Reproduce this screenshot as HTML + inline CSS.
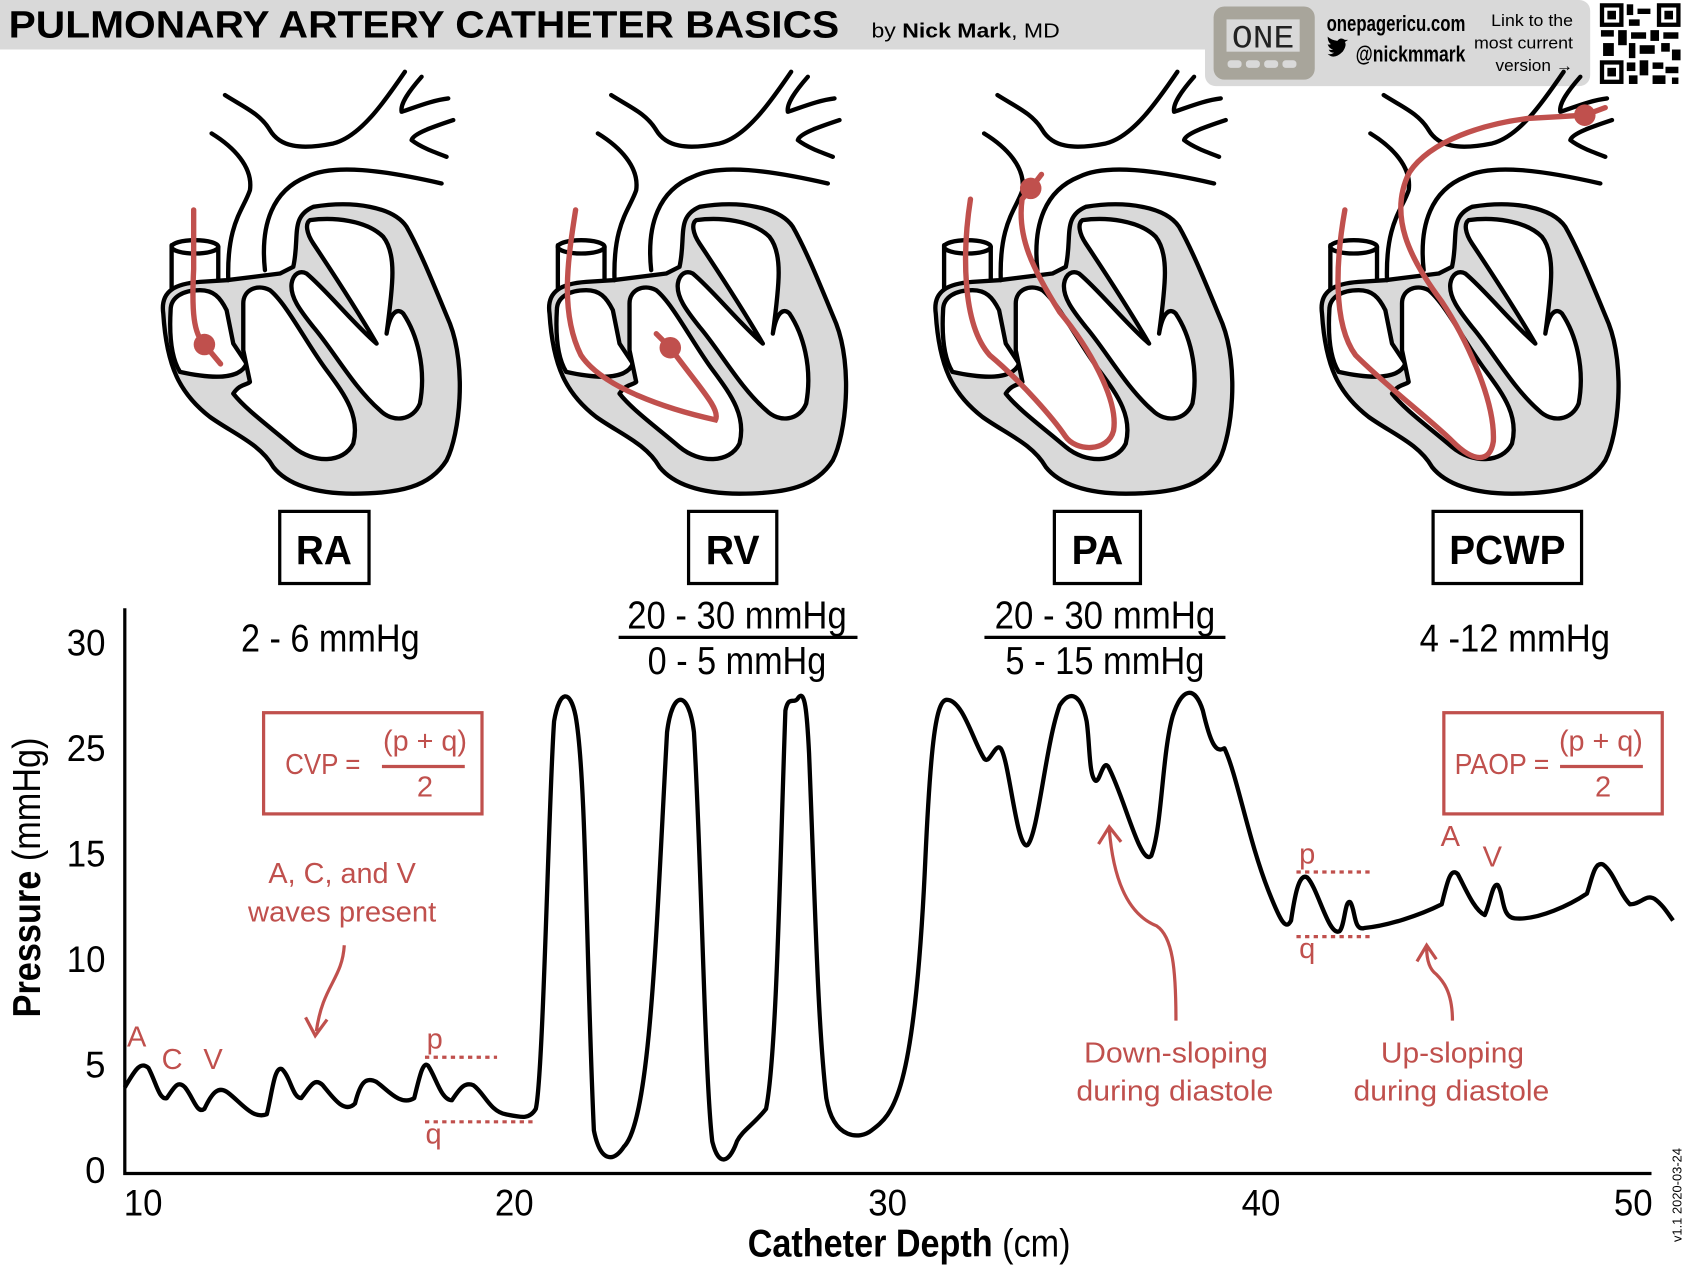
<!DOCTYPE html>
<html><head><meta charset="utf-8">
<style>
html,body{margin:0;padding:0;background:#fff;}
svg{display:block;}
.n{font-family:"Liberation Sans Narrow","Liberation Sans",sans-serif;}
.s{font-family:"Liberation Sans",sans-serif;}
.r{fill:#c0504d;}
</style></head><body>
<svg width="1687" height="1265" viewBox="0 0 1568 1175" preserveAspectRatio="none" xmlns="http://www.w3.org/2000/svg">
<defs>
<g id="heart" stroke="#000" stroke-width="13" stroke-linecap="round" stroke-linejoin="round">
  <path fill="#d9d9d9" d="M190,790 C180,720 230,700 300,695 L380,690 L540,670 L580,650 C600,560 570,500 640,470 C760,450 880,470 920,530 C960,600 1000,700 1050,820 C1100,950 1080,1150 1040,1230 C990,1310 900,1330 760,1330 C640,1330 560,1300 520,1250 C480,1180 400,1150 330,1100 C240,1030 200,950 190,790 Z"/>
  <path fill="#fff" d="M212,780 C212,740 250,720 300,720 C340,720 360,740 380,780 L400,880 L440,940 C420,990 330,985 240,965 C212,920 208,850 212,780 Z"/>
  <path fill="#fff" d="M400,1030 C420,1000 440,1005 450,995 L430,900 L430,760 C430,720 470,700 510,720 C560,760 620,880 680,960 C740,1040 780,1100 760,1180 C730,1240 640,1240 580,1190 C510,1130 440,1080 400,1030 Z"/>
  <path fill="#fff" d="M630,510 C700,500 800,510 850,560 C890,610 880,700 860,850 C870,790 890,770 910,790 C950,850 980,950 960,1060 C940,1110 880,1120 840,1080 C760,1010 700,900 640,830 C600,780 570,740 575,700 C580,670 600,660 620,670 C680,720 760,820 830,880 C760,760 680,640 640,580 C620,550 615,520 630,510 Z"/>
  <g fill="none">
    <path d="M215,715 L215,585 M355,690 L355,590"/>
    <ellipse cx="285" cy="590" rx="70" ry="20" fill="#fff"/>
    <path d="M335,250 C400,290 460,350 450,420 C430,480 380,520 385,690"/>
    <path d="M375,135 C430,170 480,190 510,240 C540,290 600,300 700,280 C780,260 850,160 915,65"/>
    <path d="M965,80 C930,120 900,160 905,185 C950,170 1000,150 1045,145"/>
    <path d="M1060,210 C1000,230 940,250 935,270 C960,290 1000,305 1040,320"/>
    <path d="M495,660 C480,520 520,420 620,380 C700,340 850,360 1025,400"/>
  </g>
</g>
</defs>
<rect width="1568" height="1175" fill="#fff"/>
<!-- header -->
<path d="M0,0 H1130 V40 Q1130,46 1124,46 H0 Z" fill="#d9d9d9"/>
<rect x="1120" y="0" width="358" height="80" rx="10" fill="#d9d9d9"/>
<text x="8" y="35" class="s" font-weight="bold" font-size="35" textLength="772" lengthAdjust="spacingAndGlyphs">PULMONARY ARTERY CATHETER BASICS</text>
<text x="810" y="35" class="s" font-size="19" textLength="175" lengthAdjust="spacingAndGlyphs">by <tspan font-weight="bold">Nick Mark</tspan>, MD</text>
<rect x="1128" y="6" width="94" height="68" rx="10" fill="#a8a59b"/>
<rect x="1140" y="18" width="68" height="30" fill="#d9d9d9"/>
<text x="1174" y="44" text-anchor="middle" font-family="Liberation Mono,monospace" font-size="30" fill="#222" textLength="58" lengthAdjust="spacingAndGlyphs">ONE</text>
<g fill="#d9d9d9"><rect x="1141" y="56" width="13" height="7" rx="3"/><rect x="1158" y="56" width="13" height="7" rx="3"/><rect x="1175" y="56" width="13" height="7" rx="3"/><rect x="1192" y="56" width="13" height="7" rx="3"/></g>
<text x="1233" y="29" class="s" font-weight="bold" font-size="21" textLength="129" lengthAdjust="spacingAndGlyphs">onepagericu.com</text>
<path d="M1234,50 q6,6 14,-2 q4,-6 2,-9 l3,-2 -3,0 q-4,-3 -7,1 q-6,-1 -9,-4 q0,5 3,7 q-2,1 -3,0 q1,4 5,5 q-2,1 -4,0 q1,3 5,3 q-3,2 -6,1z" fill="#000"/>
<text x="1260" y="57" class="s" font-weight="bold" font-size="21" textLength="102" lengthAdjust="spacingAndGlyphs">@nickmmark</text>
<g class="s" font-size="15" text-anchor="end"><text x="1462" y="24" textLength="76" lengthAdjust="spacingAndGlyphs">Link to the</text><text x="1462" y="45" textLength="92" lengthAdjust="spacingAndGlyphs">most current</text><text x="1462" y="66" textLength="72" lengthAdjust="spacingAndGlyphs">version →</text></g>
<g>
<rect x="1487" y="3" width="75" height="75" fill="#fff"/>
<g fill="none" stroke="#000" stroke-width="4"><rect x="1489" y="5" width="18" height="18"/><rect x="1542" y="5" width="18" height="18"/><rect x="1489" y="58" width="18" height="18"/></g>
<g fill="#000"><rect x="1494" y="10" width="8" height="8"/><rect x="1547" y="10" width="8" height="8"/><rect x="1494" y="63" width="8" height="8"/>
<rect x="1512" y="4" width="6" height="10"/><rect x="1522" y="8" width="12" height="5"/><rect x="1514" y="18" width="10" height="6"/><rect x="1488" y="28" width="12" height="6"/><rect x="1504" y="28" width="8" height="14"/><rect x="1516" y="30" width="14" height="6"/><rect x="1534" y="28" width="8" height="10"/><rect x="1546" y="30" width="14" height="6"/><rect x="1490" y="40" width="10" height="12"/><rect x="1514" y="40" width="6" height="14"/><rect x="1524" y="42" width="14" height="8"/><rect x="1544" y="40" width="8" height="8"/><rect x="1554" y="46" width="8" height="10"/><rect x="1512" y="58" width="8" height="8"/><rect x="1524" y="56" width="8" height="14"/><rect x="1536" y="58" width="10" height="6"/><rect x="1548" y="62" width="12" height="6"/><rect x="1514" y="70" width="8" height="8"/><rect x="1536" y="70" width="12" height="8"/><rect x="1554" y="72" width="6" height="6"/></g>
</g>
<!-- hearts -->
<use href="#heart" transform="translate(92.9,46.5) scale(0.3098)"/>
<use href="#heart" transform="translate(451.9,46.5) scale(0.3098)"/>
<use href="#heart" transform="translate(810.9,46.5) scale(0.3098)"/>
<use href="#heart" transform="translate(1169.9,46.5) scale(0.3098)"/>
<!-- catheters -->
<g fill="none" stroke="#c0504d" stroke-width="5" stroke-linecap="round">
<path d="M180,195 L180,250 C178,290 180,310 190,320 L205,338"/>
<path d="M535,195 C528,240 520,290 540,330 C560,360 620,380 665,390 C670,380 650,360 623,323 L610,310"/>
<path d="M902,185 C895,230 893,300 920,330 C950,355 980,390 990,405 C1000,420 1030,420 1035,400 C1040,370 1010,320 985,290 C960,250 945,220 950,185 L958,175 L968,162"/>
<path d="M1250,195 C1242,240 1238,300 1260,330 C1290,360 1330,390 1350,410 C1370,430 1385,430 1388,410 C1390,370 1360,310 1340,280 C1310,240 1290,200 1310,160 C1330,130 1380,115 1420,110 L1473,107 L1492,100"/>
</g>
<g fill="#c0504d"><circle cx="190" cy="320" r="10"/><circle cx="623" cy="323" r="10"/><circle cx="958" cy="175" r="10"/><circle cx="1473" cy="107" r="10"/></g>
<!-- label boxes -->
<g fill="#fff" stroke="#000" stroke-width="3">
<rect x="260" y="475" width="83" height="67"/><rect x="640" y="475" width="82" height="67"/><rect x="980" y="475" width="80" height="67"/><rect x="1332" y="475" width="138" height="67"/></g>
<g class="s" font-weight="bold" font-size="38" text-anchor="middle">
<text x="301" y="524" textLength="52" lengthAdjust="spacingAndGlyphs">RA</text><text x="681" y="524" textLength="50" lengthAdjust="spacingAndGlyphs">RV</text><text x="1020" y="524" textLength="48" lengthAdjust="spacingAndGlyphs">PA</text><text x="1401" y="524" textLength="108" lengthAdjust="spacingAndGlyphs">PCWP</text></g>
<g class="s" font-size="36" text-anchor="middle">
<text x="307" y="605" textLength="166" lengthAdjust="spacingAndGlyphs">2 - 6 mmHg</text>
<text x="685" y="584" textLength="204" lengthAdjust="spacingAndGlyphs">20 - 30 mmHg</text><text x="685" y="626" textLength="166" lengthAdjust="spacingAndGlyphs">0 - 5 mmHg</text>
<text x="1027" y="584" textLength="205" lengthAdjust="spacingAndGlyphs">20 - 30 mmHg</text><text x="1027" y="626" textLength="185" lengthAdjust="spacingAndGlyphs">5 - 15 mmHg</text>
<text x="1408" y="605" textLength="177" lengthAdjust="spacingAndGlyphs">4 -12 mmHg</text></g>
<path d="M575,592 H797 M915,592 H1139" stroke="#000" stroke-width="3"/>
<!-- axes -->
<path d="M116,565 V1090 H1535" fill="none" stroke="#000" stroke-width="3"/>
<g class="s" font-size="34" text-anchor="end">
<text x="98" y="609" textLength="36" lengthAdjust="spacingAndGlyphs">30</text><text x="98" y="707" textLength="36" lengthAdjust="spacingAndGlyphs">25</text><text x="98" y="805" textLength="36" lengthAdjust="spacingAndGlyphs">15</text><text x="98" y="903" textLength="36" lengthAdjust="spacingAndGlyphs">10</text><text x="98" y="1001">5</text><text x="98" y="1099">0</text></g>
<g class="s" font-size="34" text-anchor="middle">
<text x="133" y="1129" textLength="36" lengthAdjust="spacingAndGlyphs">10</text><text x="478" y="1129" textLength="36" lengthAdjust="spacingAndGlyphs">20</text><text x="825" y="1129" textLength="36" lengthAdjust="spacingAndGlyphs">30</text><text x="1172" y="1129" textLength="36" lengthAdjust="spacingAndGlyphs">40</text><text x="1518" y="1129" textLength="36" lengthAdjust="spacingAndGlyphs">50</text></g>
<text x="845" y="1167" class="s" font-size="36" text-anchor="middle" textLength="300" lengthAdjust="spacingAndGlyphs"><tspan font-weight="bold">Catheter Depth</tspan> (cm)</text>
<text transform="translate(37,815) rotate(-90)" class="s" font-size="36" text-anchor="middle" textLength="260" lengthAdjust="spacingAndGlyphs"><tspan font-weight="bold">Pressure</tspan> (mmHg)</text>
<text transform="translate(1563,1110) rotate(-90)" class="s" font-size="12" text-anchor="middle">v1.1 2020-03-24</text>
<!-- waveform -->
<path fill="none" stroke="#000" stroke-width="4" stroke-linejoin="round" d="M116,1010 C125,995 130,985 138,992 C145,1005 148,1022 155,1020 C162,1010 165,1003 172,1010 C180,1020 183,1035 190,1030 C197,1015 203,1008 212,1015 C225,1025 235,1040 248,1035 C253,1015 255,990 262,993 C270,1000 272,1020 280,1020 C288,1010 292,1000 300,1008 C310,1020 320,1035 330,1025 C335,1005 340,1000 350,1005 C360,1012 372,1028 385,1020 C390,1000 393,985 398,990 C405,1000 410,1022 420,1022 C428,1010 432,1005 440,1008 C450,1015 455,1032 470,1035 C485,1038 492,1040 498,1030 C505,1000 510,740 515,670 C520,640 530,640 535,665 C545,720 545,900 552,1050 C558,1080 570,1080 580,1065 C605,1040 610,860 620,680 C625,640 640,640 645,680 C652,800 655,1000 662,1060 C668,1085 678,1080 685,1060 C690,1050 700,1045 712,1030 C722,980 725,800 730,660 C733,645 738,655 742,648 C748,640 750,660 752,700 C758,850 760,950 768,1020 C775,1060 800,1058 810,1050 C830,1035 850,1020 860,800 C865,690 870,650 880,650 C895,650 905,690 915,705 C920,710 925,690 930,695 C938,705 945,790 955,785 C965,775 972,690 985,655 C995,640 1005,645 1010,670 C1013,690 1012,720 1018,725 C1022,728 1025,705 1030,712 C1045,740 1060,805 1070,795 C1080,770 1080,700 1090,665 C1098,640 1110,635 1118,660 C1125,690 1130,700 1138,695 C1150,720 1160,780 1180,830 C1190,855 1195,865 1200,855 C1203,835 1207,810 1215,815 C1225,825 1235,870 1245,865 C1250,860 1250,835 1255,838 C1260,845 1258,865 1268,862 C1290,860 1320,850 1340,840 C1345,820 1348,805 1355,812 C1362,825 1370,845 1380,850 C1385,840 1387,820 1392,822 C1398,830 1395,852 1408,853 C1430,855 1460,840 1475,830 C1480,815 1482,800 1490,803 C1500,810 1505,830 1515,840 C1525,840 1530,830 1538,835 C1545,840 1550,848 1555,855"/>
<!-- annotations -->
<g fill="none" stroke="#c0504d" stroke-width="3">
<rect x="245" y="662" width="203" height="94"/><rect x="1342" y="662" width="203" height="94"/>
<path d="M355,712 H432 M1450,712 H1527"/>
<path d="M320,878 C318,910 300,915 294,958 M284,945 L293,962 L304,947"/>
<path d="M1093,948 C1093,900 1090,870 1075,860 C1050,850 1035,820 1031,770 M1021,784 L1031,768 L1042,782"/>
<path d="M1350,948 C1350,920 1340,910 1335,905 C1328,900 1326,890 1326,880 M1317,893 L1326,878 L1335,891"/>
</g>
<g fill="none" stroke="#c0504d" stroke-width="3" stroke-dasharray="4,4">
<path d="M395,982 H462 M395,1042 H495 M1205,810 H1275 M1205,870 H1275"/></g>
<g class="s r" font-size="27" text-anchor="middle">
<text x="300" y="719" textLength="70" lengthAdjust="spacingAndGlyphs">CVP =</text><text x="395" y="697" textLength="78" lengthAdjust="spacingAndGlyphs">(p + q)</text><text x="395" y="740">2</text>
<text x="1396" y="719" textLength="88" lengthAdjust="spacingAndGlyphs">PAOP =</text><text x="1488" y="697" textLength="78" lengthAdjust="spacingAndGlyphs">(p + q)</text><text x="1490" y="740">2</text>
<text x="318" y="820" textLength="137" lengthAdjust="spacingAndGlyphs">A, C, and V</text><text x="318" y="856" textLength="175" lengthAdjust="spacingAndGlyphs">waves present</text>
<text x="127" y="972">A</text><text x="160" y="993">C</text><text x="198" y="993">V</text>
<text x="404" y="974">p</text><text x="403" y="1062">q</text>
<text x="1215" y="802">p</text><text x="1215" y="890">q</text>
<text x="1348" y="786">A</text><text x="1387" y="805">V</text>
<text x="1093" y="987" textLength="171" lengthAdjust="spacingAndGlyphs">Down-sloping</text><text x="1092" y="1022" textLength="183" lengthAdjust="spacingAndGlyphs">during diastole</text>
<text x="1350" y="987" textLength="133" lengthAdjust="spacingAndGlyphs">Up-sloping</text><text x="1349" y="1022" textLength="182" lengthAdjust="spacingAndGlyphs">during diastole</text>
</g>
</svg>
</body></html>
